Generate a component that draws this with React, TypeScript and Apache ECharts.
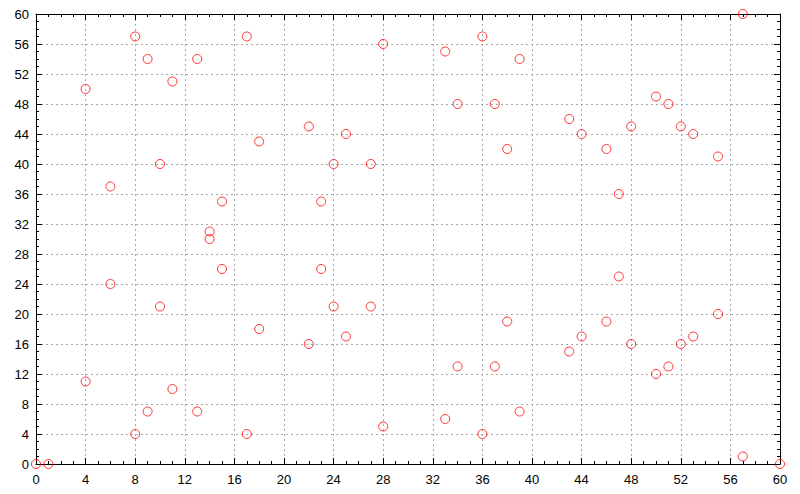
import React, { useEffect, useRef } from "react";
import * as echarts from "echarts";

const xValues = [0, 1, 57, 57, 60, 8, 9, 13, 17, 11, 4, 28, 33, 36, 39, 34, 37, 22, 25, 18, 10, 24, 27, 43, 44, 48, 46, 38, 50, 51, 52, 53, 55, 6, 47, 15, 23, 14, 14, 15, 23, 47, 6, 10, 24, 27, 55, 38, 46, 18, 25, 44, 53, 22, 48, 52, 43, 34, 37, 51, 50, 4, 11, 9, 13, 39, 33, 28, 8, 17, 36];
const yValues = [0, 0, 60, 1, 0, 57, 54, 54, 57, 51, 50, 56, 55, 57, 54, 48, 48, 45, 44, 43, 40, 40, 40, 46, 44, 45, 42, 42, 49, 48, 45, 44, 41, 37, 36, 35, 35, 31, 30, 26, 26, 25, 24, 21, 21, 21, 20, 19, 19, 18, 17, 17, 17, 16, 16, 16, 15, 13, 13, 13, 12, 11, 10, 7, 7, 7, 6, 5, 4, 4, 4];

const axisMin = 0;
const axisMax = 60;
const tickStep = 4;

export default function App() {
  const ref = useRef<HTMLDivElement>(null);
  useEffect(() => {
    if (!ref.current) return;
    const chart = echarts.init(ref.current, undefined, { renderer: "svg" });
    const font = "'Liberation Sans', Arial, sans-serif";
    const baseAxis = (show: boolean, margin: number) => ({
      type: "value" as const,
      min: axisMin,
      max: axisMax,
      interval: tickStep,
      axisLine: { show: true, onZero: false, lineStyle: { color: "#000", width: 1 } },
      axisTick: { show: true, inside: true, length: 6, lineStyle: { color: "#000" } },
      minorTick: { show: true, splitNumber: 4, length: 3, lineStyle: { color: "#000" } },
      axisLabel: { show, color: "#000", fontSize: 13, fontFamily: font, margin },
      splitLine: { show: false },
    });
    chart.setOption({
      animation: false,
      backgroundColor: "#fff",
      grid: { left: 36, right: 20, top: 14, bottom: 30 },
      xAxis: [
        {
          ...baseAxis(true, 9),
          position: "bottom",
          splitLine: { show: true, lineStyle: { color: "#a8a8a8", type: [2, 3], width: 1 } },
        },
        { ...baseAxis(false, 8), position: "top" },
      ],
      yAxis: [
        {
          ...baseAxis(true, 7),
          position: "left",
          splitLine: { show: true, lineStyle: { color: "#a8a8a8", type: [2, 3], width: 1 } },
        },
        { ...baseAxis(false, 8), position: "right" },
      ],
      series: [
        {
          type: "scatter",
          xAxisIndex: 0,
          yAxisIndex: 0,
          clip: false,
          symbol: "circle",
          symbolSize: 9,
          itemStyle: { color: "rgba(255,255,255,0)", borderColor: "#ff0000", borderWidth: 1 },
          data: xValues.map((x, i) => [x, yValues[i]]),
        },
      ],
    });
    return () => chart.dispose();
  }, []);
  return <div ref={ref} style={{ width: 800, height: 494, position: "absolute", left: 0, top: 0 }} />;
}
